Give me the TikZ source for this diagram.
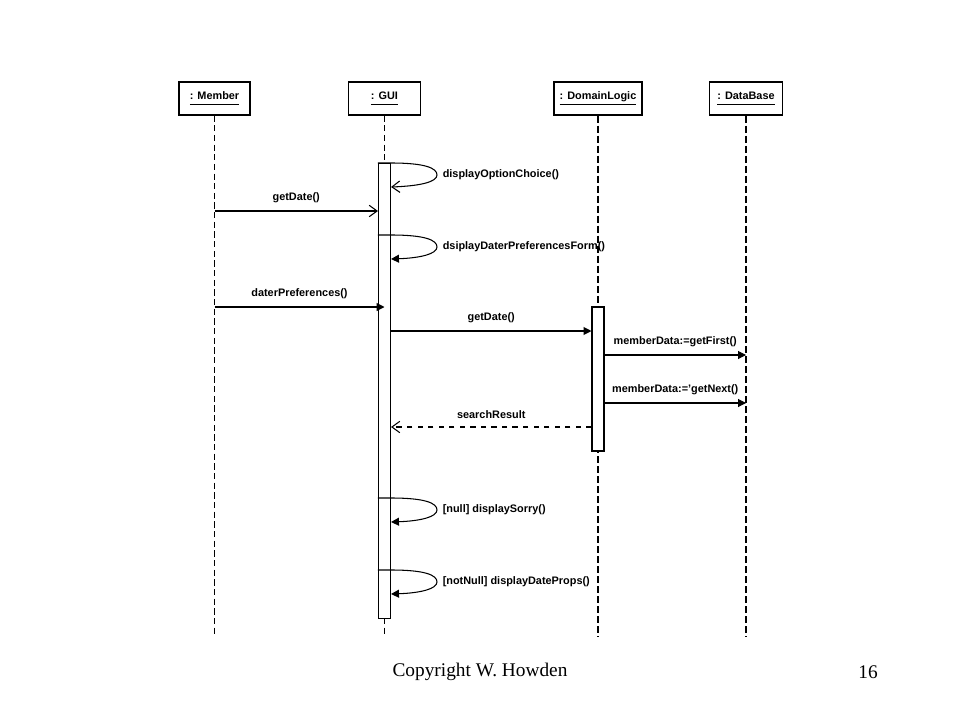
\documentclass[tikz,border=0pt]{standalone}
\usepackage{fontspec}
\setmainfont{Liberation Sans}
\newfontfamily\footfont{Liberation Serif}
\usetikzlibrary{arrows.meta}
\newcommand\objname[1]{\underline{\vphantom{g}#1}}

\begin{document}
\begin{tikzpicture}[x=0.02cm, y=-0.02cm, line width=0.6pt,
  obj/.style={draw, minimum width=#1, minimum height=0.66cm, inner sep=0pt, font=\fontsize{6.2}{7}\selectfont\bfseries},
  act/.style={draw, fill=white, minimum width=0.24cm, inner sep=0pt, minimum height=#1},
  msg/.style={-{Triangle[length=4.5pt,width=4.5pt]}},
  msg open/.style={-{Straight Barb[length=4.5pt,width=6.5pt]}},
  reply/.style={msg open, dashed},
  lbl/.style={font=\fontsize{6.2}{7}\selectfont\bfseries, inner sep=1pt}]
\useasboundingbox (0,0) rectangle (960,720);
\node [obj=1.42cm] (member) at (214.5,98.5) {\objname{: Member}};
\node [obj=1.44cm] (gui) at (384.5,98.5) {\objname{: GUI}};
\node [obj=1.76cm] (logic) at (598,98.5) {\objname{: DomainLogic}};
\node [obj=1.46cm] (db) at (746,98.5) {\objname{: DataBase}};
\draw [dash pattern=on 3.5pt off 2pt]  (member.south) -- (member.south |- 0,637);
\draw [dash pattern=on 3.5pt off 2pt]  (gui.south) -- (gui.south |- 0,637);
\draw [line width=1.1pt, dash pattern=on 4pt off 1.7pt]  (logic.south) -- (logic.south |- 0,637);
\draw [line width=1.1pt, dash pattern=on 4pt off 1.7pt]  (db.south) -- (db.south |- 0,637);
\node [act=9.12cm] (guiact) at (384.5,391) {};
\node [act=2.88cm] (logicact) at (598,379) {};
% calls of the GUI on itself
\foreach \y/\txt/\tip [count=\i] in {163/displayOptionChoice()/msg open, 235/dsiplayDaterPreferencesForm()/msg, 498/{[null] displaySorry()}/msg, 570/{[notNull] displayDateProps()}/msg}
  \draw [\tip] (guiact.west |- 0,\y) -- (guiact.east |- 0,\y) .. controls (425,\y) and (437,\y+5) .. (437,\y+12) node[right=2pt, lbl] (self\i) {\txt} .. controls (437,\y+19) and (420,\y+23) .. (guiact.east |- 0,\y+24);
\draw [msg open] (member.south |- 0,211) -- (guiact.west |- 0,211) node[midway, above=3.5pt, lbl] (m1) {getDate()};
\draw [msg] (member.south |- 0,307) -- (guiact.center |- 0,307) node[midway, above=3.5pt, lbl] (m2) {daterPreferences()};
\draw [msg] (guiact.east |- 0,331) -- (logicact.west |- 0,331) node[midway, above=3.5pt, lbl] (m3) {getDate()};
\draw [msg] (logicact.east |- 0,355) -- (db.south |- 0,355) node[midway, above=3.5pt, lbl] (m4) {memberData:=getFirst()};
\draw [msg] (logicact.east |- 0,403) -- (db.south |- 0,403) node[midway, above=3.5pt, lbl] (m5) {memberData:='getNext()};
\draw [reply] (logicact.west |- 0,427) -- (guiact.east |- 0,427) node[midway, above=3.5pt, lbl] (m6) {searchResult};
\node [font=\footfont\fontsize{11}{13}\selectfont] (copy) at (480,672) {Copyright W. Howden};
\node [font=\footfont\fontsize{11}{13}\selectfont] (page) at (868,672) {16};
\end{tikzpicture}
\end{document}
